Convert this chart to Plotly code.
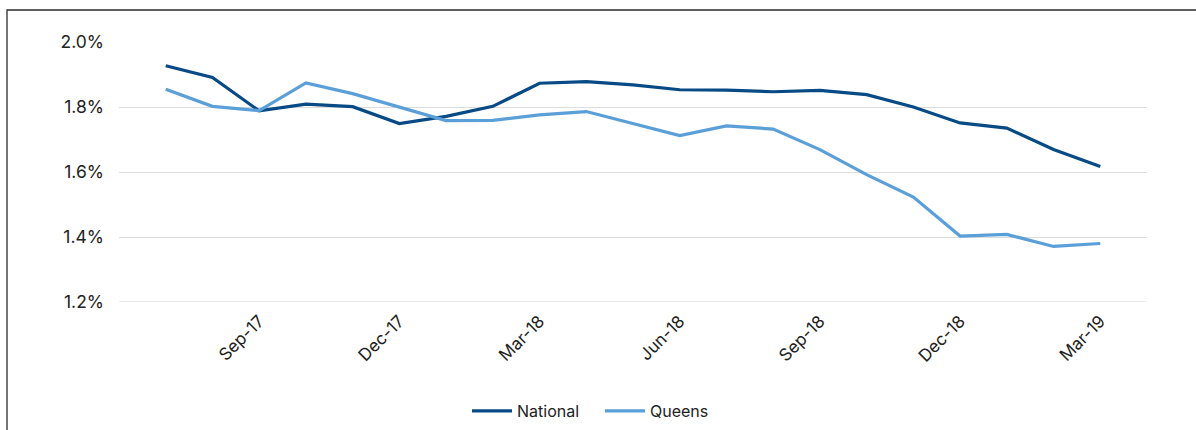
import plotly.graph_objects as go

# Monthly rates, Jul-17 through Mar-19
months = ["Jul-17", "Aug-17", "Sep-17", "Oct-17", "Nov-17", "Dec-17",
          "Jan-18", "Feb-18", "Mar-18", "Apr-18", "May-18", "Jun-18",
          "Jul-18", "Aug-18", "Sep-18", "Oct-18", "Nov-18", "Dec-18",
          "Jan-19", "Feb-19", "Mar-19"]

national = [1.927, 1.891, 1.788, 1.809, 1.801, 1.749, 1.771, 1.802, 1.873,
            1.878, 1.868, 1.853, 1.852, 1.847, 1.851, 1.838, 1.800, 1.751,
            1.735, 1.669, 1.617]

queens = [1.855, 1.802, 1.789, 1.874, 1.841, 1.799, 1.758, 1.759, 1.776,
          1.786, 1.748, 1.712, 1.742, 1.732, 1.669, 1.592, 1.523, 1.403,
          1.408, 1.371, 1.380]

tick_months = ["Sep-17", "Dec-17", "Mar-18", "Jun-18", "Sep-18", "Dec-18", "Mar-19"]
y_ticks = [1.2, 1.4, 1.6, 1.8, 2.0]
y_labels = ["1.2%", "1.4%", "1.6%", "1.8%", "2.0%"]

FONT = "Inter"
TEXT = "#222222"
W, H = 1196, 430
ML, MR, MT, MB = 119, 49, 42, 128

fig = go.Figure()
fig.add_trace(go.Scatter(x=months, y=national, name="National", mode="lines",
                         line=dict(color="#074a85", width=3.2)))
fig.add_trace(go.Scatter(x=months, y=queens, name="Queens", mode="lines",
                         line=dict(color="#5a9fd8", width=3.2)))

pw = W - ML - MR
ph = H - MT - MB

def px_x(p):
    return (p - ML) / pw

def px_y(p):
    return (H - MB - p) / ph

# Frame around the chart (left and top edges visible)
fig.add_shape(type="path", xref="paper", yref="paper",
              path=f"M {px_x(7)},{px_y(440)} L {px_x(7)},{px_y(10)} L {px_x(1200)},{px_y(10)}",
              line=dict(color="#2b2b2b", width=1.3))

# Baseline gridline at the bottom of the value range
fig.add_shape(type="line", xref="paper", yref="y", x0=0, x1=1, y0=1.2, y1=1.2,
              line=dict(color="#d9d9d9", width=1), layer="below")

fig.update_layout(
    width=W, height=H,
    margin=dict(l=ML, r=MR, t=MT, b=MB, autoexpand=False),
    paper_bgcolor="white", plot_bgcolor="white",
    font=dict(family=FONT, size=16, color=TEXT),
    showlegend=True,
    legend=dict(orientation="h", x=px_x(467), xanchor="left",
                y=px_y(411), yanchor="middle",
                font=dict(family=FONT, size=16, color=TEXT),
                entrywidth=78, entrywidthmode="pixels",
                itemwidth=40, tracegroupgap=0),
    xaxis=dict(type="category", range=[-1, 21], showgrid=False,
               showline=False, zeroline=False, ticks="", automargin=False,
               tickmode="array", tickvals=tick_months, ticktext=tick_months,
               tickangle=-45, ticklabelstandoff=5,
               tickfont=dict(family=FONT, size=17, color=TEXT)),
    yaxis=dict(range=[1.2, 2.0], tickmode="array", tickvals=y_ticks,
               ticktext=y_labels, showgrid=True, gridcolor="#dcdcdc",
               gridwidth=1, zeroline=False, showline=False, ticks="",
               automargin=False, ticklabelstandoff=14,
               tickfont=dict(family=FONT, size=17.5, color=TEXT)),
)

fig.write_html("out.html")
